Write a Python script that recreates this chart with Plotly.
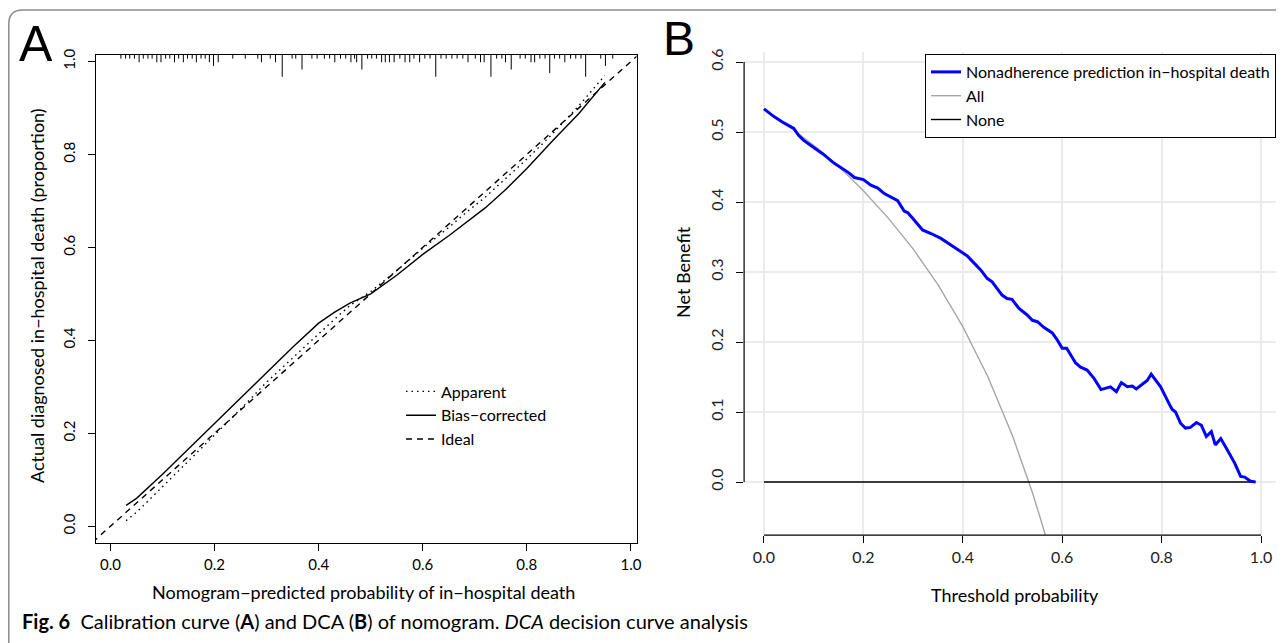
import plotly.graph_objects as go

# page offset (browser body margin) compensation
OX, OY = 8, 8
W, H = 1284 - OX, 643 - OY

# ---------------- Panel A: calibration curve ----------------
cal_pred = [0.03, 0.05, 0.10, 0.15, 0.20, 0.25, 0.30, 0.35, 0.40, 0.43, 0.46, 0.50,
            0.55, 0.60, 0.65, 0.68, 0.72, 0.76, 0.80, 0.85, 0.90, 0.95]
cal_apparent = [0.012, 0.030, 0.085, 0.140, 0.195, 0.252, 0.310, 0.362, 0.415, 0.445, 0.475, 0.505,
                0.550, 0.598, 0.643, 0.672, 0.708, 0.748, 0.790, 0.845, 0.905, 0.970]
cal_bias = [0.045, 0.060, 0.112, 0.167, 0.222, 0.277, 0.332, 0.385, 0.437, 0.460, 0.480, 0.500,
            0.540, 0.585, 0.625, 0.650, 0.685, 0.725, 0.770, 0.830, 0.888, 0.955]
ideal_ends = [-0.05, 1.05]

rug_pos = [0.020, 0.029, 0.037, 0.046, 0.055, 0.063, 0.072, 0.080, 0.089, 0.097, 0.106,
           0.114, 0.123, 0.131, 0.140, 0.148, 0.157, 0.165, 0.174, 0.182, 0.190,
           0.198, 0.207, 0.235, 0.259, 0.283, 0.290, 0.307, 0.317, 0.330, 0.349, 0.356,
           0.368, 0.387, 0.397, 0.411, 0.421, 0.431, 0.442, 0.452, 0.462, 0.469, 0.473,
           0.483, 0.494, 0.502, 0.511, 0.521, 0.528, 0.536, 0.545, 0.556, 0.566, 0.575,
           0.583, 0.594, 0.604, 0.614, 0.625, 0.635, 0.645, 0.656, 0.666, 0.677, 0.687,
           0.701, 0.711, 0.718, 0.731, 0.742, 0.752, 0.759, 0.770, 0.787, 0.797, 0.808,
           0.815, 0.825, 0.835, 0.844, 0.853, 0.863, 0.873, 0.884, 0.894, 0.904, 0.913,
           0.942, 0.951, 0.965]
rug_count = [1, 1, 1, 1, 2, 1, 1, 1, 2, 2, 1,
             1, 2, 1, 2, 1, 1, 2, 1, 1, 2,
             3, 2, 1, 1, 1, 2, 1, 2, 6, 1, 1,
             4, 1, 1, 1, 1, 2, 1, 1, 2, 1, 2,
             4, 1, 1, 1, 2, 2, 2, 2, 1, 2, 2,
             1, 2, 1, 1, 6, 1, 1, 1, 1, 1, 2,
             1, 2, 2, 6, 1, 1, 2, 4, 1, 1, 2,
             2, 1, 1, 5, 1, 1, 2, 1, 1, 1, 6,
             1, 3, 1]
a_xticks = [0.0, 0.2, 0.4, 0.6, 0.8, 1.0]
a_yticks = [0.0, 0.2, 0.4, 0.6, 0.8, 1.0]

# ---------------- Panel B: decision curve ----------------
thr = [0, 0.02, 0.04, 0.06, 0.07, 0.08, 0.10, 0.12, 0.14, 0.16,
       0.17, 0.182, 0.20, 0.215, 0.229, 0.242, 0.256, 0.269, 0.282, 0.289,
       0.3025, 0.319, 0.336, 0.356, 0.373, 0.389, 0.409, 0.429, 0.436, 0.449,
       0.459, 0.479, 0.489, 0.499, 0.513, 0.529, 0.54, 0.55, 0.563, 0.58,
       0.59, 0.60, 0.609, 0.627, 0.637, 0.65, 0.664, 0.678, 0.697, 0.709,
       0.719, 0.731, 0.741, 0.749, 0.764, 0.771, 0.779, 0.798, 0.815, 0.821,
       0.828, 0.838, 0.848, 0.858, 0.87, 0.88, 0.89, 0.90, 0.908, 0.919,
       0.932, 0.947, 0.959, 0.967, 0.979, 0.989]
nb_model = [0.533, 0.522, 0.513, 0.505, 0.495, 0.488, 0.478, 0.468, 0.456, 0.447,
            0.442, 0.435, 0.432, 0.424, 0.420, 0.412, 0.407, 0.402, 0.387, 0.385,
            0.374, 0.360, 0.355, 0.348, 0.340, 0.333, 0.323, 0.308, 0.303, 0.291,
            0.286, 0.267, 0.262, 0.261, 0.248, 0.239, 0.231, 0.229, 0.221, 0.213,
            0.203, 0.191, 0.191, 0.170, 0.164, 0.160, 0.148, 0.132, 0.136, 0.129,
            0.142, 0.136, 0.137, 0.133, 0.141, 0.145, 0.154, 0.136, 0.112, 0.104,
            0.100, 0.084, 0.077, 0.078, 0.085, 0.081, 0.065, 0.072, 0.053, 0.062,
            0.046, 0.027, 0.008, 0.007, 0.001, 0.000]
thr_all = [0, 0.05, 0.10, 0.15, 0.20, 0.25, 0.30, 0.35, 0.40, 0.45, 0.50, 0.52, 0.54, 0.56, 0.565, 0.57]
nb_all = [0.533, 0.508, 0.481, 0.451, 0.416, 0.377, 0.333, 0.282, 0.222, 0.151, 0.066, 0.027,
          -0.015, -0.061, -0.074, -0.086]
b_xticks = [0.0, 0.2, 0.4, 0.6, 0.8, 1.0]
b_yticks = [0.0, 0.1, 0.2, 0.3, 0.4, 0.5, 0.6]

# ---------------- geometry ----------------
A_XR = [-0.0286, 1.0107]
A_YR = [-0.035, 1.014]
B_XR = [-0.04, 1.04]
B_YR = [-0.076, 0.615]


def fx(px):
    return (px - OX) / W


def fy(py):
    return 1 - (py - OY) / H


FONT = "Lato"
fig = go.Figure()

# Panel A traces
fig.add_trace(go.Scatter(x=ideal_ends, y=ideal_ends, mode="lines", name="Ideal",
                         line=dict(color="black", width=1.4, dash="6px,5px"),
                         xaxis="x", yaxis="y", legend="legend", legendrank=3))
fig.add_trace(go.Scatter(x=cal_pred, y=cal_apparent, mode="lines", name="Apparent",
                         line=dict(color="black", width=1.4, dash="1.5px,4px"),
                         xaxis="x", yaxis="y", legend="legend", legendrank=1))
fig.add_trace(go.Scatter(x=cal_pred, y=cal_bias, mode="lines", name="Bias\u2212corrected",
                         line=dict(color="black", width=1.4),
                         xaxis="x", yaxis="y", legend="legend", legendrank=2))

RUG_UNIT = 0.0078
rx, ry = [], []
for p, n in zip(rug_pos, rug_count):
    rx += [p, p, None]
    ry += [A_YR[1], A_YR[1] - n * RUG_UNIT, None]
fig.add_trace(go.Scatter(x=rx, y=ry, mode="lines", line=dict(color="black", width=1),
                         showlegend=False, hoverinfo="skip", xaxis="x", yaxis="y"))

# Panel B traces
fig.add_trace(go.Scatter(x=thr_all, y=nb_all, mode="lines", name="All",
                         line=dict(color="#A6A6A6", width=1.4),
                         xaxis="x2", yaxis="y2", legend="legend2", legendrank=2))
fig.add_trace(go.Scatter(x=[thr[0], thr[-1]], y=[0, 0], mode="lines", name="None",
                         line=dict(color="black", width=1.4),
                         xaxis="x2", yaxis="y2", legend="legend2", legendrank=3))
fig.add_trace(go.Scatter(x=thr, y=nb_model, mode="lines",
                         name="Nonadherence prediction in\u2212hospital death",
                         line=dict(color="#0000FF", width=3),
                         xaxis="x2", yaxis="y2", legend="legend2", legendrank=1))

axis_common = dict(ticks="outside", ticklen=7, tickwidth=1, tickcolor="black",
                   zeroline=False, tickformat=".1f", automargin=False)

fig.update_layout(
    width=W, height=H,
    margin=dict(l=0, r=0, t=0, b=0),
    paper_bgcolor="white", plot_bgcolor="white",
    font=dict(family=FONT, color="black"),
    xaxis=dict(domain=[fx(95.6), fx(636.5)], range=A_XR, tickvals=a_xticks,
               showline=True, mirror=True, linecolor="black", linewidth=1,
               showgrid=False, anchor="y", tickfont=dict(family=FONT, size=15),
               ticklabelstandoff=1, **axis_common),
    yaxis=dict(domain=[fy(542.5), fy(55)], range=A_YR, tickvals=a_yticks,
               showline=True, mirror=True, linecolor="black", linewidth=1,
               showgrid=False, anchor="x", tickangle=-90,
               tickfont=dict(family=FONT, size=15), ticklabelstandoff=7, **axis_common),
    xaxis2=dict(domain=[fx(744.1), fx(1280.9)], range=B_XR, tickvals=b_xticks,
                showline=False, showgrid=True, gridcolor="#EBEBEB", gridwidth=1.5,
                anchor="y2", tickfont=dict(family=FONT, size=16, color="#222"),
                ticklabelstandoff=1, **axis_common),
    yaxis2=dict(domain=[fy(535.2), fy(51.5)], range=B_YR, tickvals=b_yticks,
                showline=False, showgrid=True, gridcolor="#EBEBEB", gridwidth=1.5,
                anchor="x2", tickangle=-90, tickfont=dict(family=FONT, size=16, color="#222"),
                ticklabelstandoff=7, **axis_common),
    legend=dict(x=fx(401), y=fy(374.5), xanchor="left", yanchor="top",
                bgcolor="rgba(0,0,0,0)", borderwidth=0,
                font=dict(family=FONT, size=16, color="black"), tracegroupgap=0),
    legend2=dict(x=fx(925), y=fy(54), xanchor="left", yanchor="top",
                 bgcolor="white", bordercolor="black", borderwidth=1,
                 font=dict(family=FONT, size=16, color="black"), tracegroupgap=0),
    showlegend=True,
)

# R-style partial axis lines for panel B (span first to last tick)
fig.add_shape(type="line", xref="x2", yref="y2 domain", x0=min(b_xticks), x1=max(b_xticks),
              y0=0, y1=0, line=dict(color="black", width=1.2))
fig.add_shape(type="line", xref="x2 domain", yref="y2", x0=0, x1=0,
              y0=min(b_yticks), y1=max(b_yticks), line=dict(color="black", width=1.2))

# Outer figure frame (rounded top-left corner)
x0, yt = fx(8.8), fy(10)
rxp, ryp = 14 / W, 14 / H
fig.add_shape(type="path", xref="paper", yref="paper",
              path=f"M {x0},-0.05 L {x0},{yt - ryp} Q {x0},{yt} {x0 + rxp},{yt} L 1.05,{yt}",
              line=dict(color="#8C8C8C", width=1.5))

ann = [
    dict(text="A", x=fx(36), y=fy(44), font=dict(family="Liberation Sans", size=50)),
    dict(text="B", x=fx(679), y=fy(39), font=dict(family="Liberation Sans", size=48)),
    dict(text="Nomogram\u2212predicted probability of in\u2212hospital death", x=fx(363), y=fy(592),
         font=dict(family=FONT, size=18)),
    dict(text="Actual diagnosed in\u2212hospital death (proportion)", x=fx(37), y=fy(296),
         textangle=-90, font=dict(family=FONT, size=18)),
    dict(text="Threshold probability", x=fx(1015), y=fy(595), font=dict(family=FONT, size=18)),
    dict(text="Net Benefit", x=fx(683), y=fy(272), textangle=-90, font=dict(family=FONT, size=18)),
]
for a in ann:
    fig.add_annotation(xref="paper", yref="paper", showarrow=False,
                       xanchor="center", yanchor="middle", **a)

fig.add_annotation(xref="paper", yref="paper", showarrow=False, x=fx(20), y=fy(621),
                   xanchor="left", yanchor="middle",
                   text="<b>Fig. 6</b>  Calibration curve (<b>A</b>) and DCA (<b>B</b>) of nomogram. "
                        "<i>DCA</i> decision curve analysis",
                   font=dict(family=FONT, size=20, color="black"))

fig.write_html("out.html")
